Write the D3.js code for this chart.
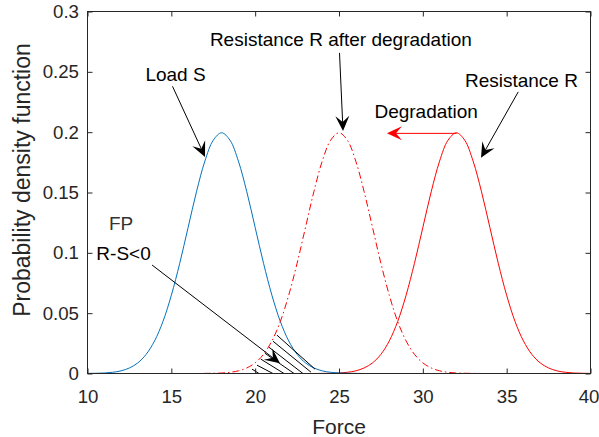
<!DOCTYPE html>
<html><head><meta charset="utf-8">
<script src="https://cdn.jsdelivr.net/npm/d3@7/dist/d3.min.js"></script>
<style>body{margin:0;background:#fff}svg{display:block}</style>
</head><body>
<svg id="c" width="599" height="437"></svg>
<script>
// ---------- data ----------
const forceX = [10,10.5,11,11.5,12,12.5,13,13.5,14,14.5,15,15.5,16,16.5,17,17.5,18,18.5,19,19.5,20,20.5,21,21.5,22,22.5,23,23.5,24,24.5,25,25.5,26,26.5,27,27.5,28,28.5,29,29.5,30,30.5,31,31.5,32,32.5,33,33.5,34,34.5,35,35.5,36,36.5,37,37.5,38,38.5,39,39.5,40];
const loadS = [0.0001,0.0002,0.0004,0.0010,0.0022,0.0046,0.0088,0.0159,0.0270,0.0431,0.0648,0.0913,0.1210,0.1506,0.1760,0.1933,0.1995,0.1933,0.1760,0.1506,0.1210,0.0913,0.0648,0.0431,0.0270,0.0159,0.0088,0.0046,0.0022,0.0010,0.0004,0.0002,0.0001,0,0,0,0,0,0,0,0,0,0,0,0,0,0,0,0,0,0,0,0,0,0,0,0,0,0,0,0];
const resistDegraded = [0,0,0,0,0,0,0,0,0,0,0,0,0,0,0.0001,0.0002,0.0004,0.0010,0.0022,0.0046,0.0088,0.0159,0.0270,0.0431,0.0648,0.0913,0.1210,0.1506,0.1760,0.1933,0.1995,0.1933,0.1760,0.1506,0.1210,0.0913,0.0648,0.0431,0.0270,0.0159,0.0088,0.0046,0.0022,0.0010,0.0004,0.0002,0.0001,0,0,0,0,0,0,0,0,0,0,0,0,0,0];
const resistR = [0,0,0,0,0,0,0,0,0,0,0,0,0,0,0,0,0,0,0,0,0,0,0,0,0,0,0,0,0.0001,0.0002,0.0004,0.0010,0.0022,0.0046,0.0088,0.0159,0.0270,0.0431,0.0648,0.0913,0.1210,0.1506,0.1760,0.1933,0.1995,0.1933,0.1760,0.1506,0.1210,0.0913,0.0648,0.0431,0.0270,0.0159,0.0088,0.0046,0.0022,0.0010,0.0004,0.0002,0.0001];
const xTicks = [10,15,20,25,30,35,40];
const xTickLabels = ["10","15","20","25","30","35","40"];
const yTicks = [0,0.05,0.1,0.15,0.2,0.25,0.3];
const yTickLabels = ["0","0.05","0.1","0.15","0.2","0.25","0.3"];
const xLabel = "Force";
const yLabel = "Probability density function";
// hatch segments of failure region (x1,y1,x2,y2 in data units)
const hatchX1 = [21.30,21.06,20.82,20.58,20.34,20.11,19.81];
const hatchY1 = [0.0318,0.0268,0.0218,0.0168,0.0119,0.0069,0.0036];
const hatchX2 = [23.57,23.33,22.85,22.32,21.72,21.06,20.23];
const hatchY2 = [0.0036,0.0011,0,0,0,0,0];
// annotation arrows (start -> tip, data units)
const arrowNames = ["Load S","Resistance R after degradation","Resistance R","Degradation","R-S<0"];
const arrowX1 = [15.07,25.03,35.69,32.01,13.85];
const arrowY1 = [0.238,0.2657,0.2334,0.199,0.0899];
const arrowX2 = [17.01,25.24,33.47,27.86,21.48];
const arrowY2 = [0.1795,0.2010,0.1788,0.199,0.0085];
const arrowColors = ["#000","#000","#000","#f00","#000"];
// annotation texts (anchor in data units)
const noteText = ["Load S","Resistance R after degradation","Resistance R","Degradation","FP","R-S<0"];
const noteX = [15.25,25.11,35.88,30.2,12.0,12.15];
const noteY = [0.242,0.2715,0.2378,0.2118,0.1188,0.0939];
const noteColor = ["#000","#000","#000","#000","#333","#000"];

// ---------- drawing ----------
const svg = d3.select("#c");
const L=87.5,R=590.5,T=11.5,B=373.5;
const x=d3.scaleLinear().domain([10,40]).range([L,R]);
const y=d3.scaleLinear().domain([0,0.3]).range([B,T]);
const axisColor="#262626";
const font="'Liberation Sans', Arial, Helvetica, sans-serif";
const fs=18.67;

svg.append("rect").attr("width",599).attr("height",437).attr("fill","#fff");

svg.append("clipPath").attr("id","pc").append("rect").attr("x",L).attr("y",T-2).attr("width",R-L).attr("height",B-T+2);

const line=d3.line().x(d=>x(d[0])).y(d=>y(d[1])).curve(d3.curveCatmullRom);
const gPlot=svg.append("g").attr("clip-path","url(#pc)");
gPlot.append("path").datum(forceX.map((v,i)=>[v,resistR[i]])).attr("d",line)
  .attr("fill","none").attr("stroke","#ff0000").attr("stroke-width",1);
gPlot.append("path").datum(forceX.map((v,i)=>[v,loadS[i]])).attr("d",line)
  .attr("fill","none").attr("stroke","#0072bd").attr("stroke-width",1);
gPlot.append("path").datum(forceX.map((v,i)=>[v,resistDegraded[i]])).attr("d",line)
  .attr("fill","none").attr("stroke","#ff0000").attr("stroke-width",1).attr("stroke-dasharray","7,3,1.5,3");

// hatch
svg.append("g").selectAll("line").data(hatchX1).join("line")
  .attr("x1",(d,i)=>x(hatchX1[i])).attr("y1",(d,i)=>y(hatchY1[i]))
  .attr("x2",(d,i)=>x(hatchX2[i])).attr("y2",(d,i)=>y(hatchY2[i]))
  .attr("stroke","#000").attr("stroke-width",1);

// axes
const gx=svg.append("g").attr("transform",`translate(0,${B})`)
  .call(d3.axisBottom(x).tickValues(xTicks).tickSizeInner(-5).tickSizeOuter(0).tickPadding(16).tickFormat((d,i)=>xTickLabels[i]));
const gxt=svg.append("g").attr("transform",`translate(0,${T})`)
  .call(d3.axisTop(x).tickValues(xTicks).tickSizeInner(-5).tickSizeOuter(0).tickFormat(""));
const gy=svg.append("g").attr("transform",`translate(${L},0)`)
  .call(d3.axisLeft(y).tickValues(yTicks).tickSizeInner(-5).tickSizeOuter(0).tickPadding(8.5).tickFormat((d,i)=>yTickLabels[i]));
const gyr=svg.append("g").attr("transform",`translate(${R},0)`)
  .call(d3.axisRight(y).tickValues(yTicks).tickSizeInner(-5).tickSizeOuter(0).tickFormat(""));
[gx,gxt,gy,gyr].forEach(g=>{
  g.select(".domain").remove();
  g.selectAll("line").attr("stroke",axisColor);
  g.selectAll("text").attr("font-family",font).attr("font-size",fs).attr("fill",axisColor);
});
gx.selectAll("text").filter((d,i)=>i===xTicks.length-1).attr("dx",-2);
svg.append("rect").attr("x",L).attr("y",T).attr("width",R-L).attr("height",B-T)
  .attr("fill","none").attr("stroke",axisColor).attr("stroke-width",1);

svg.append("text").attr("x",(L+R)/2).attr("y",434).attr("text-anchor","middle")
  .attr("font-family",font).attr("font-size",21).attr("fill",axisColor).text(xLabel);
svg.append("text").attr("transform",`translate(30,180) rotate(-90)`).attr("text-anchor","middle")
  .attr("font-family",font).attr("font-size",23).attr("fill",axisColor).text(yLabel);

// arrows
function arrow(i){
  const sx=x(arrowX1[i]), sy=y(arrowY1[i]), tx=x(arrowX2[i]), ty=y(arrowY2[i]);
  const dx=tx-sx, dy=ty-sy, len=Math.hypot(dx,dy), ux=dx/len, uy=dy/len, nx=-uy, ny=ux;
  const HL=15, HW=14;
  const bx=tx-ux*HL, by=ty-uy*HL;
  const mx=tx-ux*HL*0.6, my=ty-uy*HL*0.6;
  const c=arrowColors[i];
  svg.append("line").attr("x1",sx).attr("y1",sy).attr("x2",mx).attr("y2",my).attr("stroke",c).attr("stroke-width",1);
  svg.append("path").attr("d",`M${tx},${ty}L${bx+nx*HW/2},${by+ny*HW/2}L${mx},${my}L${bx-nx*HW/2},${by-ny*HW/2}Z`).attr("fill",c).attr("stroke","none");
}
arrowNames.forEach((n,i)=>arrow(i));

// notes
svg.append("g").selectAll("text").data(noteText).join("text")
  .attr("x",(d,i)=>x(noteX[i])).attr("y",(d,i)=>y(noteY[i])).attr("text-anchor","middle")
  .attr("font-family",font).attr("font-size",19).attr("fill",(d,i)=>noteColor[i]).text(d=>d);
</script>
</body></html>
